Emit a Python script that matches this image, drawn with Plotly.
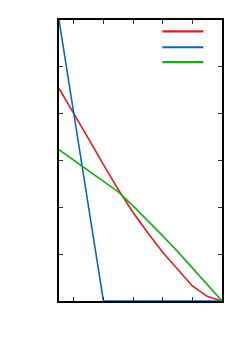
import plotly.graph_objects as go

x_vals = [0, 0.5, 1.0, 1.5, 2.0, 2.5, 3.0, 3.5, 4.0, 4.5, 5.0, 5.5]
red_vals = [4.54, 4.01, 3.46, 2.91, 2.38, 1.89, 1.45, 1.04, 0.67, 0.32, 0.10, 0.0]
blue_vals = [6.0, 4.0, 2.0, 0.0, 0.0, 0.0, 0.0, 0.0, 0.0, 0.0, 0.0, 0.0]
green_vals = [3.23, 3.00, 2.78, 2.55, 2.33, 2.03, 1.72, 1.39, 1.06, 0.70, 0.34, 0.0]

series = [
    ("", red_vals, "#e41a1c"),
    ("", blue_vals, "#0868b8"),
    ("", green_vals, "#14b014"),
]

fig = go.Figure()
for name, vals, col in series:
    fig.add_trace(go.Scatter(x=x_vals, y=vals, mode="lines", name=name,
                             line=dict(color=col, width=1.6),
                             showlegend=False, cliponaxis=True))

legend_y = [0.9596, 0.903, 0.85]
for (name, vals, col), yy in zip(series, legend_y):
    fig.add_shape(type="line", xref="paper", yref="paper", x0=0.634, x1=0.886,
                  y0=yy, y1=yy, line=dict(color=col, width=2.2))

axis_common = dict(showline=True, linecolor="black", linewidth=1.5, mirror="ticks",
                   ticks="inside", ticklen=4, tickwidth=1, tickcolor="#333333",
                   showgrid=False, zeroline=False, showticklabels=False)

fig.update_layout(
    width=250, height=350,
    margin=dict(l=51, r=36, t=10, b=57),
    paper_bgcolor="white", plot_bgcolor="white",
    xaxis=dict(range=[0, 5.5], tick0=0.5, dtick=1, **axis_common),
    yaxis=dict(range=[0, 6], tick0=0, dtick=1, **axis_common),
    showlegend=False,
)

fig.write_html("out.html")
